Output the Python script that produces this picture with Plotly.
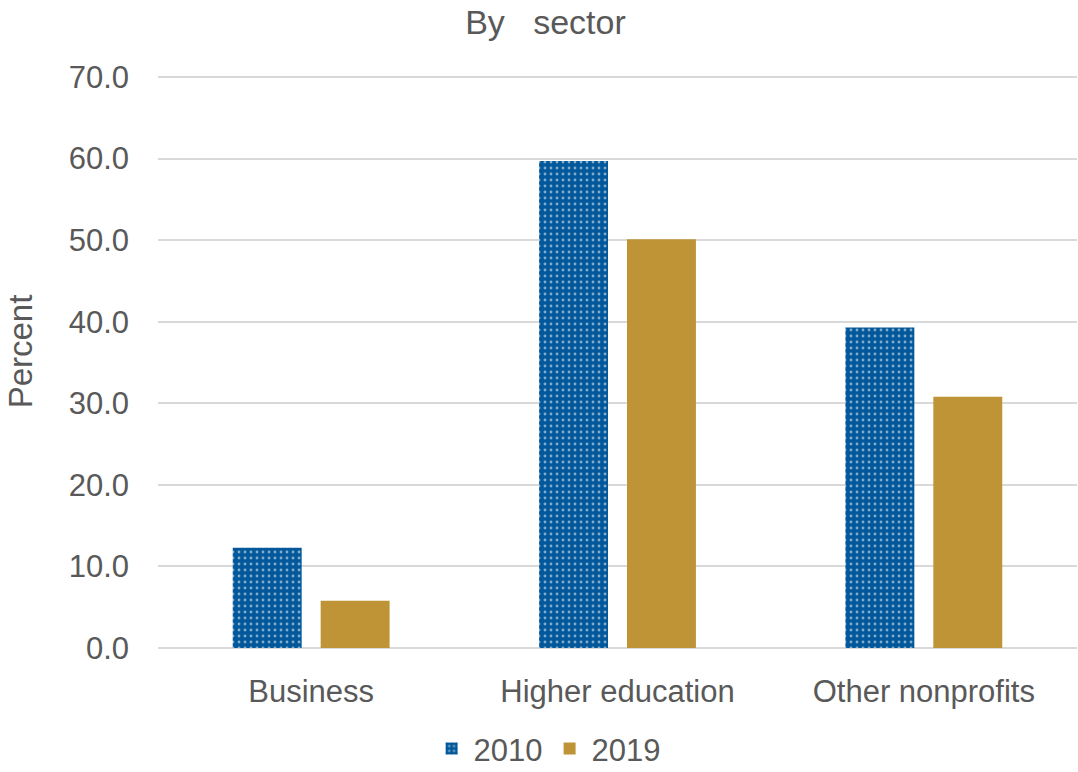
import plotly.graph_objects as go

categories = ["Business", "Higher education", "Other nonprofits"]
series_2010 = [12.3, 59.7, 39.3]
series_2019 = [5.8, 50.1, 30.8]
y_ticks = [0, 10, 20, 30, 40, 50, 60, 70]

FONT = "Liberation Sans, Arial, sans-serif"
GRAY = "#595959"

fig = go.Figure()
fig.add_trace(go.Bar(
    x=categories, y=series_2010, name="2010",
    marker=dict(color="#02589A", line=dict(width=0),
                pattern=dict(shape=".", fgcolor="white", bgcolor="#02589A",
                             size=6, solidity=0.18, fillmode="overlay")),
))
fig.add_trace(go.Bar(
    x=categories, y=series_2019, name="2019",
    marker=dict(color="#BE9437", line=dict(width=0)),
))

fig.update_layout(
    width=1078, height=772,
    paper_bgcolor="white", plot_bgcolor="white",
    margin=dict(l=158, r=1, t=75, b=124, autoexpand=False),
    barmode="group", bargap=0.426, bargroupgap=0.216,
    font=dict(family=FONT, size=31, color=GRAY),
    title=dict(text="By\u00a0\u00a0 sector", x=0.506, xref="container", xanchor="center",
               y=0.971, yref="container", yanchor="middle",
               font=dict(family=FONT, size=34, color=GRAY)),
    legend=dict(orientation="h", x=0.508, xref="container", xanchor="center",
                y=0.03, yref="container", yanchor="middle",
                font=dict(family=FONT, size=31, color=GRAY),
                itemwidth=34, traceorder="normal"),
    showlegend=True,
    annotations=[dict(text="Percent", textangle=-90, xref="paper", yref="paper",
                      x=-0.150, y=0.518, xanchor="center", yanchor="middle",
                      showarrow=False, font=dict(family=FONT, size=33, color=GRAY))],
)
fig.update_yaxes(
    range=[0, 70.25], tickvals=y_ticks, tickformat=".1f",
    showgrid=True, gridcolor="#D9D9D9", gridwidth=2,
    zeroline=True, zerolinecolor="#D9D9D9", zerolinewidth=2,
    showline=False, ticks="", ticklabelstandoff=28, automargin=False,
    tickfont=dict(family=FONT, size=31, color=GRAY),
)
fig.update_xaxes(
    showgrid=False, showline=False, ticks="", ticklabelstandoff=22,
    tickangle=0, automargin=False,
    tickfont=dict(family=FONT, size=31, color=GRAY),
)

fig.write_html("out.html")
